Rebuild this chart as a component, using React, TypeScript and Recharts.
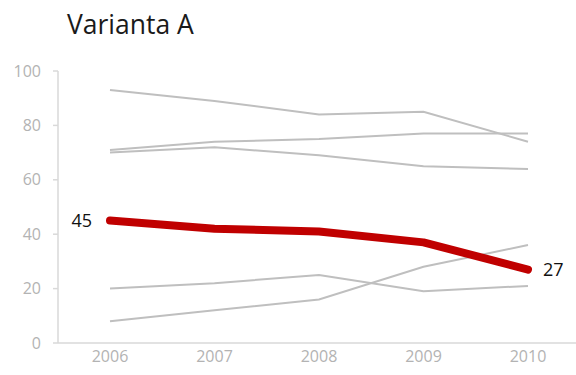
import { LineChart, Line, XAxis, YAxis } from 'recharts';

// Values
const years = ['2006', '2007', '2008', '2009', '2010'];
const grayA = [93, 89, 84, 85, 74];
const grayB = [71, 74, 75, 77, 77];
const grayC = [70, 72, 69, 65, 64];
const grayD = [20, 22, 25, 19, 21];
const grayE = [8, 12, 16, 28, 36];
const highlight = [45, 42, 41, 37, 27];
const yTicks = [0, 20, 40, 60, 80, 100];

const grayKeys = ['a', 'b', 'c', 'd', 'e'];
const grays = [grayA, grayB, grayC, grayD, grayE];

const data = years.map((year, i) => {
  const row: Record<string, string | number> = { year, red: highlight[i] };
  grayKeys.forEach((k, j) => {
    row[k] = grays[j][i];
  });
  return row;
});

const FONT = '"Open Sans", "Noto Sans", sans-serif';

const RedLabel = (props: any) => {
  const { x, y, value, index } = props;
  if (index === 0) {
    return (
      <text x={x - 18} y={y} dy={6} textAnchor="end" fontSize={18} fill="#111" fontFamily={FONT}>
        {value}
      </text>
    );
  }
  if (index === years.length - 1) {
    return (
      <text x={x + 15} y={y} dy={6} textAnchor="start" fontSize={18} fill="#111" fontFamily={FONT}>
        {value}
      </text>
    );
  }
  return null;
};

export default function App() {
  return (
    <div style={{ position: 'absolute', left: 0, top: 0, width: 576, height: 375, background: '#fff' }}>
      <div
        style={{
          position: 'absolute',
          left: 67,
          top: 6,
          fontFamily: FONT,
          fontSize: 26.5,
          color: '#1a1a1a',
        }}
      >
        Varianta A
      </div>
      <LineChart
        width={576}
        height={375}
        data={data}
        margin={{ top: 71, right: 0, bottom: 0, left: 0 }}
      >
        <XAxis
          dataKey="year"
          height={32}
          padding={{ left: 52, right: 48 }}
          axisLine={{ stroke: '#d9d9d9', strokeWidth: 1.5 }}
          tickLine={false}
          tick={{ fill: '#b3b3b3', fontSize: 16, fontFamily: FONT }}
          dy={0}
        />
        <YAxis
          width={58}
          domain={[0, 100]}
          ticks={yTicks}
          interval={0}
          axisLine={{ stroke: '#d9d9d9', strokeWidth: 1.5 }}
          tickLine={{ stroke: '#d9d9d9', strokeWidth: 1.5 }}
          tickSize={5}
          tick={{ fill: '#b3b3b3', fontSize: 16, fontFamily: FONT }}
          dx={-10}
        />
        {grayKeys.map((k) => (
          <Line
            key={k}
            type="linear"
            dataKey={k}
            stroke="#bfbfbf"
            strokeWidth={2}
            dot={false}
            activeDot={false}
            isAnimationActive={false}
          />
        ))}
        <Line
          type="linear"
          dataKey="red"
          stroke="#c00000"
          strokeWidth={8}
          strokeLinecap="round"
          strokeLinejoin="round"
          dot={false}
          activeDot={false}
          label={RedLabel}
          isAnimationActive={false}
        />
      </LineChart>
    </div>
  );
}
